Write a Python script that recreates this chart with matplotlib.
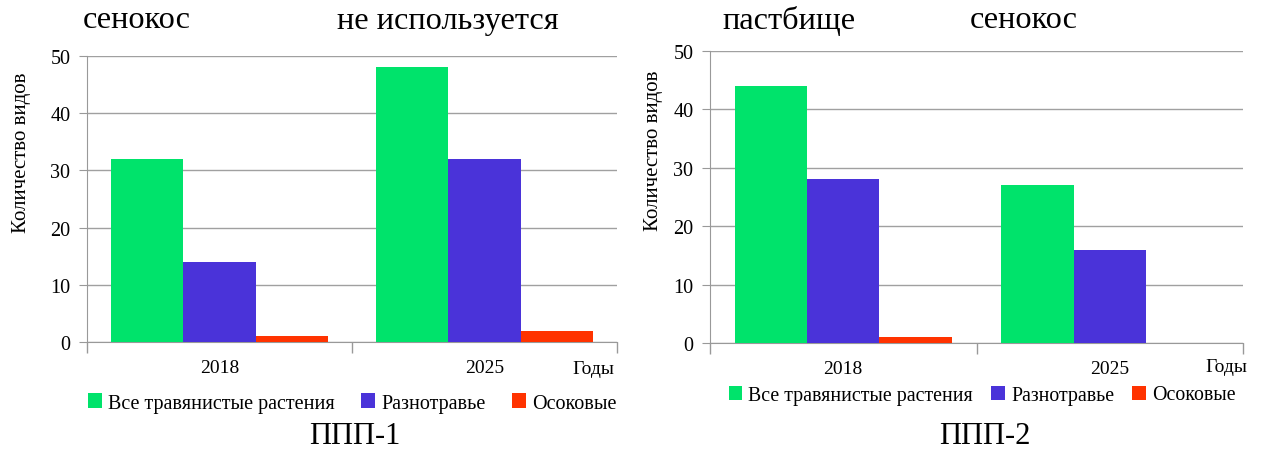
import numpy as np
import matplotlib
matplotlib.use('Agg')
from matplotlib import pyplot as plt
from matplotlib.patches import Patch

# данные
years = ['2018', '2025']
series = ['Все травянистые растения', 'Разнотравье', 'Осоковые']
colors = ['#00E36B', '#4A33D9', '#FF3300']

ppp1_all = [32, 48]
ppp1_raz = [14, 32]
ppp1_oso = [1, 2]

ppp2_all = [44, 27]
ppp2_raz = [28, 16]
ppp2_oso = [1, 0]

W, H = 1261, 452
fig = plt.figure(figsize=(W / 100, H / 100), dpi=100)
serif = ['Liberation Serif', 'DejaVu Serif']


def px_axes(x0, x1, ytop, ybot):
    return fig.add_axes([x0 / W, 1 - ybot / H, (x1 - x0) / W, (ybot - ytop) / H])


def draw(ax, vals):
    x = np.arange(len(years)) + 0.5
    w = 0.272
    for i, (v, c) in enumerate(zip(vals, colors)):
        ax.bar(x + (i - 1) * w, v, width=w, color=c, zorder=3)
    ax.set_xlim(0, 2)
    ax.set_ylim(0, 50)
    ax.set_yticks(range(0, 51, 10))
    ax.set_xticks([0, 1, 2])
    ax.set_xticklabels([])
    ax.set_xticks(x, minor=True)
    ax.set_xticklabels(years, minor=True, fontsize=14, family=serif)
    ax.tick_params(axis='x', which='major', length=8, color='#999999', width=1)
    ax.tick_params(axis='x', which='minor', length=0, pad=12)
    ax.tick_params(axis='y', length=6, color='#999999', labelsize=14.5, pad=6)
    for t in ax.get_yticklabels():
        t.set_family(serif)
    ax.grid(axis='y', color='#A0A0A0', linewidth=1, zorder=0)
    for s in ['top', 'right']:
        ax.spines[s].set_visible(False)
    ax.spines['left'].set_color('#999999')
    ax.spines['bottom'].set_color('#999999')
    ax.set_ylabel('Количество видов', fontsize=15, family=serif)


ax1 = px_axes(87, 617, 57, 343)
draw(ax1, [ppp1_all, ppp1_raz, ppp1_oso])
ax1.yaxis.set_label_coords((31 - 87) / 530, (343 - 153) / 286)
ax2 = px_axes(710, 1243, 52, 344)
draw(ax2, [ppp2_all, ppp2_raz, ppp2_oso])
ax2.yaxis.set_label_coords((663 - 710) / 533, (344 - 151) / 292)

# подписи
top_fs = 23.3
fig.text(83 / W, 1 - 21 / H, 'сенокос', fontsize=top_fs, family=serif, va='center')
fig.text(337 / W, 1 - 21 / H, 'не используется', fontsize=top_fs, family=serif, va='center')
fig.text(722 / W, 1 - 21 / H, 'пастбище', fontsize=top_fs, family=serif, va='center')
fig.text(970 / W, 1 - 21 / H, 'сенокос', fontsize=top_fs, family=serif, va='center')

fig.text(614 / W, 1 - 370 / H, 'Годы', fontsize=14, family=serif, ha='right', va='center')
fig.text(1247 / W, 1 - 368 / H, 'Годы', fontsize=14, family=serif, ha='right', va='center')

fig.text(355 / W, 1 - 437 / H, 'ППП-1', fontsize=22, family=serif, ha='center', va='center')
fig.text(985 / W, 1 - 437 / H, 'ППП-2', fontsize=22, family=serif, ha='center', va='center')

handles = [Patch(facecolor=c, label=s) for c, s in zip(colors, series)]
for cx, cy, fs, cs in [(352, 404, 14.5, 1.3), (982, 396, 14.3, 0.9)]:
    fig.legend(handles=handles, loc='center', bbox_to_anchor=(cx / W, 1 - cy / H),
               ncol=3, frameon=False, handlelength=0.7, handleheight=0.7,
               handletextpad=0.3, columnspacing=cs,
               prop={'family': serif, 'size': fs})

fig.savefig('out.png', dpi=100)
